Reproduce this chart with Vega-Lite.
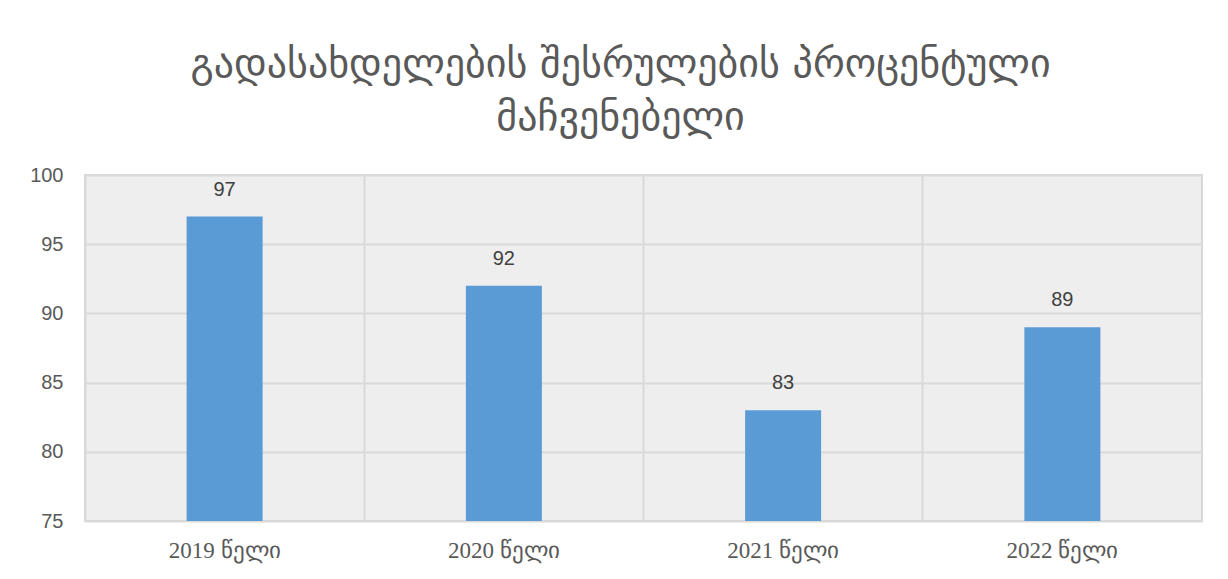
{
  "$schema": "https://vega.github.io/schema/vega-lite/v6.json",
  "autosize": "none",
  "width": 1117,
  "height": 346,
  "padding": {"left": 85, "top": 175, "right": 26, "bottom": 58},
  "background": "white",
  "title": {
    "text": ["გადასახდელების შესრულების პროცენტული", "მაჩვენებელი"],
    "font": "DejaVu Sans",
    "fontSize": 40,
    "fontWeight": "normal",
    "color": "#595959",
    "anchor": "middle",
    "dx": -23,
    "offset": 27,
    "lineHeight": 53
  },
  "config": {
    "view": {"stroke": "#d9d9d9", "fill": "#eeeeee", "strokeWidth": 2},
    "axis": {"gridColor": "#d9d9d9", "gridWidth": 2, "domain": false, "ticks": false, "labelColor": "#595959", "labelFontSize": 20, "title": null}
  },
  "data": {
    "values": [
      {"year": "2019 წელი", "value": 97},
      {"year": "2020 წელი", "value": 92},
      {"year": "2021 წელი", "value": 83},
      {"year": "2022 წელი", "value": 89}
    ]
  },
  "encoding": {
    "x": {
      "field": "year",
      "type": "nominal",
      "sort": null,
      "scale": {"paddingInner": 0, "paddingOuter": 0},
      "axis": {"labelAngle": 0, "grid": true, "bandPosition": 0, "labelFont": "Liberation Serif", "labelFontSize": 23, "labelPadding": 18}
    },
    "y": {
      "field": "value",
      "type": "quantitative",
      "scale": {"domain": [75, 100], "zero": false, "nice": false},
      "axis": {"values": [75, 80, 85, 90, 95, 100], "grid": true, "labelFont": "Liberation Sans", "labelFontSize": 20, "labelPadding": 22}
    }
  },
  "layer": [
    {"mark": {"type": "bar", "color": "#5b9bd5", "size": 76, "clip": true}},
    {"mark": {"type": "text", "font": "Liberation Sans", "fontSize": 20, "color": "#404040", "dy": -27, "baseline": "middle"}, "encoding": {"text": {"field": "value"}}}
  ]
}
